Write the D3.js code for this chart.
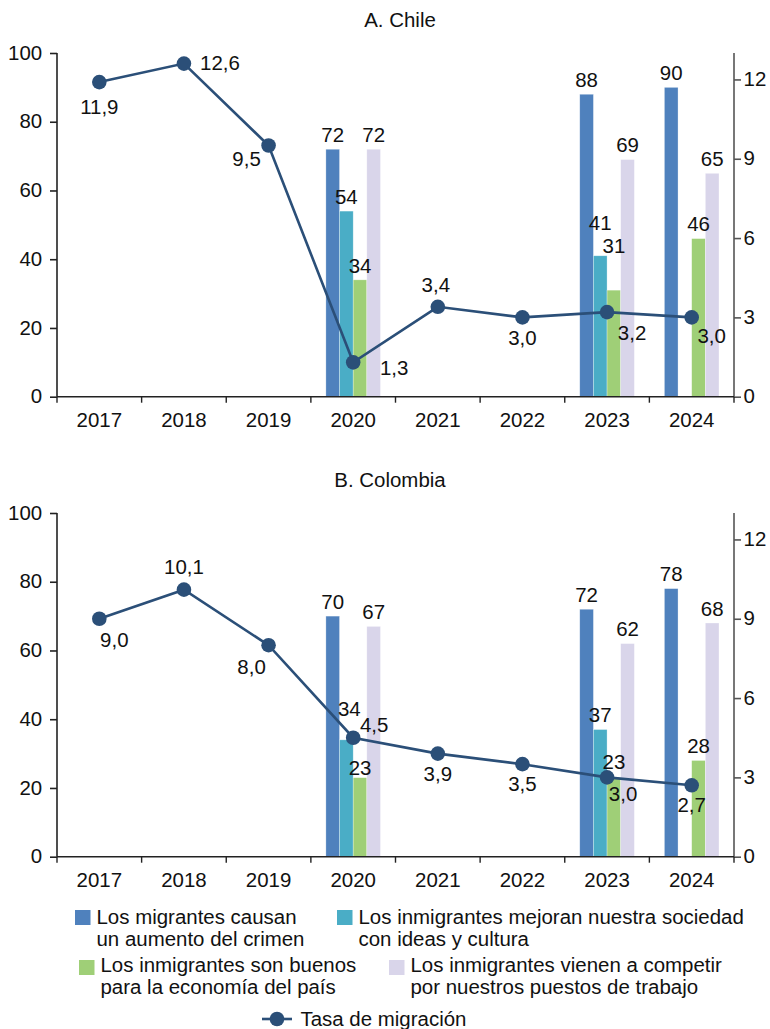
<!DOCTYPE html>
<html><head><meta charset="utf-8">
<script src="https://cdn.jsdelivr.net/npm/d3@7/dist/d3.min.js"></script>
<style>
body{margin:0;background:#fff}
svg{display:block}
text{font-family:"Liberation Sans",Arial,Helvetica,sans-serif;fill:#111;font-size:19.3px}
</style>
</head><body>
<svg id="chart" width="770" height="1029"></svg>
<script>
// ---------------- DATA ----------------
const years = ["2017","2018","2019","2020","2021","2022","2023","2024"];
const seriesNames = [
  "Los migrantes causan un aumento del crimen",
  "Los inmigrantes mejoran nuestra sociedad con ideas y cultura",
  "Los inmigrantes son buenos para la economía del país",
  "Los inmigrantes vienen a competir por nuestros puestos de trabajo"
];
const legendLines = [
  ["Los migrantes causan","un aumento del crimen"],
  ["Los inmigrantes mejoran nuestra sociedad","con ideas y cultura"],
  ["Los inmigrantes son buenos","para la economía del país"],
  ["Los inmigrantes vienen a competir","por nuestros puestos de trabajo"]
];
const lineName = "Tasa de migración";
const leftTicks = [0,20,40,60,80,100];
const rightTicks = [0,3,6,9,12];

// A. Chile
const chileCrime    = [null,null,null,72,null,null,88,90];
const chileCulture  = [null,null,null,54,null,null,41,null];
const chileEconomy  = [null,null,null,34,null,null,31,46];
const chileCompete  = [null,null,null,72,null,null,69,65];
const chileRate     = [11.9,12.6,9.5,1.3,3.4,3.0,3.2,3.0];

// B. Colombia
const colCrime      = [null,null,null,70,null,null,72,78];
const colCulture    = [null,null,null,34,null,null,37,null];
const colEconomy    = [null,null,null,23,null,null,23,28];
const colCompete    = [null,null,null,67,null,null,62,68];
const colRate       = [9.0,10.1,8.0,4.5,3.9,3.5,3.0,2.7];

// ---------------- LAYOUT ----------------
const W = 770, H = 1029;
const SX = 1.06;               // horizontal glyph stretch
const colors = ["#4f81bd","#4aadc6","#9fcf77","#d9d5ea"];
const lineColor = "#2b4f78";
const plotLeft = 57, plotRight = 734;
const panels = [
  {title:"A. Chile", titleX:400, offset:0,
   series:[chileCrime,chileCulture,chileEconomy,chileCompete], rate:chileRate,
   rateLbl:[[0,25],[36,0],[-22,14],[41,6],[-2,-22],[0,21],[25,21],[20,19]],
   barLbl:{"2023|1":[0,33],"2023|2":[0,44]}},
  {title:"B. Colombia", titleX:390, offset:460,
   series:[colCrime,colCulture,colEconomy,colCompete], rate:colRate,
   rateLbl:[[15,21],[0,-22],[-17,22],[21,-12],[0,21],[0,20],[16,17],[0,20]],
   barLbl:{"2020|1":[3,31],"2020|2":[0,9],"2023|2":[0,15]}}
];
const top0 = 53, bottom0 = 396.7;

const svg = d3.select("#chart");

function txt(g, x, y, s, anchor){
  return g.append("text")
    .attr("transform", `translate(${x},${y}) scale(${SX},1)`)
    .attr("text-anchor", anchor || "middle")
    .text(s);
}

const x0 = d3.scaleBand().domain(years).range([plotLeft, plotRight]).paddingInner(0).paddingOuter(0);
const x1 = d3.scaleBand().domain(d3.range(4)).range([0, x0.bandwidth()]).paddingInner(0).paddingOuter(1.1);

panels.forEach(p => {
  const g = svg.append("g").attr("transform", `translate(0,${p.offset})`);
  const yL = d3.scaleLinear().domain([0,100]).range([bottom0, top0]);
  const yR = d3.scaleLinear().domain([0,13]).range([bottom0, top0]);

  // title
  txt(g, p.titleX, 26.7, p.title);

  // bars
  p.series.forEach((vals, si) => {
    years.forEach((yr, i) => {
      const v = vals[i];
      if (v == null) return;
      g.append("rect")
        .attr("x", x0(yr) + x1(si))
        .attr("y", yL(v))
        .attr("width", x1.bandwidth())
        .attr("height", yL(0) - yL(v))
        .attr("fill", colors[si])
        .attr("stroke", "#ffffff").attr("stroke-opacity", 0.5).attr("stroke-width", 0.6);
    });
  });
  // bar labels
  p.series.forEach((vals, si) => {
    years.forEach((yr, i) => {
      const v = vals[i];
      if (v == null) return;
      const o = p.barLbl[yr + "|" + si] || [0,14];
      txt(g, x0(yr) + x1(si) + x1.bandwidth()/2 + o[0], yL(v) - o[1], String(v))
        .attr("dy","0.35em");
    });
  });

  // axes
  const axL = g.append("g").attr("transform", `translate(${plotLeft},0)`)
    .call(d3.axisLeft(yL).tickValues(leftTicks).tickSize(7).tickPadding(7));
  const axR = g.append("g").attr("transform", `translate(${plotRight},0)`)
    .call(d3.axisRight(yR).tickValues(rightTicks).tickSize(7).tickPadding(2));
  [axL, axR].forEach(a => {
    a.select(".domain").attr("d", `M0,${top0}V${bottom0}`);
    a.selectAll("text").attr("font-size", null).attr("font-family", null)
      .attr("transform", `scale(${SX},1)`).style("fill","#111");
  });
  axL.selectAll("line, path").attr("stroke", "#222").attr("stroke-width", 1.6);
  axR.selectAll("line, path").attr("stroke", "#555").attr("stroke-width", 1.6);
  axL.attr("font-size", null).attr("font-family", null);
  axR.attr("font-size", null).attr("font-family", null);

  // x axis
  g.append("line").attr("x1", plotLeft).attr("x2", plotRight)
    .attr("y1", bottom0).attr("y2", bottom0).attr("stroke", "#222").attr("stroke-width", 1.6);
  const bounds = years.map(y => x0(y)).concat([x0(years[years.length-1]) + x0.bandwidth()]);
  bounds.forEach(bx => {
    g.append("line").attr("x1", bx).attr("x2", bx).attr("y1", bottom0).attr("y2", bottom0 + 6)
      .attr("stroke", "#222").attr("stroke-width", 1.4);
  });
  years.forEach(yr => txt(g, x0(yr) + x0.bandwidth()/2, 427, yr));

  // line
  const pts = years.map((yr, i) => [x0(yr) + x0.bandwidth()/2, yR(p.rate[i])]);
  g.append("path").attr("d", d3.line()(pts)).attr("fill","none")
    .attr("stroke", lineColor).attr("stroke-width", 2.6);
  pts.forEach((pt, i) => {
    g.append("circle").attr("cx", pt[0]).attr("cy", pt[1]).attr("r", 7.3).attr("fill", lineColor);
  });
  pts.forEach((pt, i) => {
    const o = p.rateLbl[i];
    txt(g, pt[0] + o[0], pt[1] + o[1], p.rate[i].toFixed(1).replace(".", ","))
      .attr("dy","0.35em");
  });
});

// ---------------- LEGEND ----------------
const legPos = [[75,910,924.3],[337,910,924.3],[79,960,972.3],[389,960,972.3]];
const lg = svg.append("g");
legendLines.forEach((lines, i) => {
  const [lx, ly, bl] = legPos[i];
  lg.append("rect").attr("x", lx).attr("y", ly).attr("width", 15.5).attr("height", 15).attr("fill", colors[i]);
  lines.forEach((ln, j) => txt(lg, lx + 21.5, bl + j*21.5, ln, "start"));
});
lg.append("line").attr("x1", 262).attr("x2", 292).attr("y1", 1019).attr("y2", 1019)
  .attr("stroke", lineColor).attr("stroke-width", 2.6);
lg.append("circle").attr("cx", 277).attr("cy", 1019).attr("r", 7.3).attr("fill", lineColor);
txt(lg, 300.5, 1026, lineName, "start");
</script>
</body></html>
